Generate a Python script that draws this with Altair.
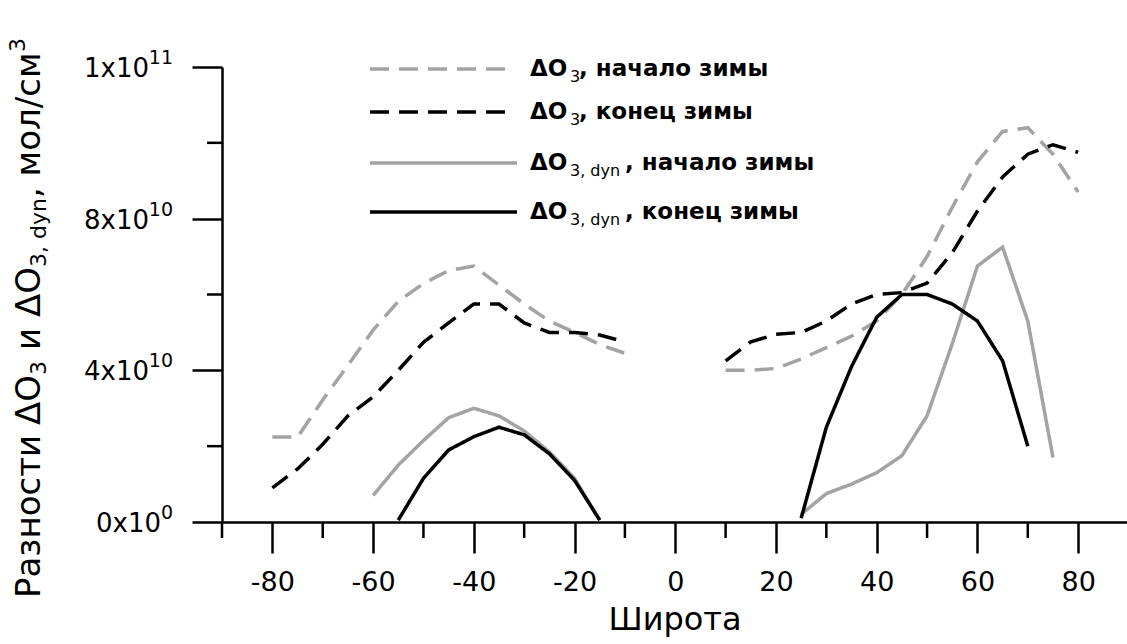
import altair as alt
import pandas as pd

# ---------------- data (values in units of 1e10 mol/cm^3) ----------------
lat_s = [-80, -75, -70, -65, -60, -55, -50, -45, -40, -35, -30, -25, -20, -15, -10]
do3_start_s = [2.24, 2.24, 3.22, 4.13, 5.06, 5.82, 6.29, 6.63, 6.75, 6.25, 5.75, 5.3, 5.0, 4.68, 4.45]
do3_end_s = [0.9, 1.4, 2.05, 2.8, 3.3, 4.0, 4.74, 5.25, 5.75, 5.75, 5.25, 5.0, 5.0, 4.93, 4.75]

lat_dyn_start_s = [-60, -55, -50, -45, -40, -35, -30, -25, -20, -15]
dyn_start_s = [0.7, 1.5, 2.15, 2.75, 3.0, 2.8, 2.4, 1.85, 1.15, 0.05]
lat_dyn_end_s = [-55, -50, -45, -40, -35, -30, -25, -20, -15]
dyn_end_s = [0.05, 1.15, 1.9, 2.25, 2.5, 2.3, 1.8, 1.1, 0.05]

lat_n = [10, 15, 20, 25, 30, 35, 40, 45, 50, 55, 60, 65, 70, 75, 80]
do3_start_n = [4.0, 4.0, 4.05, 4.3, 4.6, 4.9, 5.3, 6.0, 7.0, 8.3, 9.5, 10.3, 10.4, 9.7, 8.7]
do3_end_n = [4.25, 4.75, 4.95, 5.0, 5.3, 5.75, 6.0, 6.05, 6.3, 7.1, 8.2, 9.1, 9.7, 9.95, 9.75]

lat_dyn_start_n = [25, 30, 35, 40, 45, 50, 55, 60, 65, 70, 75]
dyn_start_n = [0.2, 0.75, 1.0, 1.3, 1.75, 2.8, 4.7, 6.75, 7.25, 5.3, 1.7]
lat_dyn_end_n = [25, 30, 35, 40, 45, 50, 55, 60, 65, 70]
dyn_end_n = [0.1, 2.5, 4.1, 5.4, 6.0, 6.0, 5.75, 5.3, 4.25, 2.0]

series_keys = ["s1", "s2", "s3", "s4"]
x_major = [-80, -60, -40, -20, 0, 20, 40, 60, 80]
x_minor = [-90, -70, -50, -30, -10, 10, 30, 50, 70]
y_major = [0, 4e10, 8e10, 1.2e11]
y_minor = [2e10, 6e10, 1e11]
# tick labels of the y axis: mantissa and exponent (Grapher style)
y_lab_vals2 = [4e10, 8e10, 1.2e11]
y_lab_mant2 = ["4x10", "8x10", "1x10"]
y_lab_exp2 = ["10", "10", "11"]
y_lab_vals1 = [0]
y_lab_mant1 = ["0x10"]
y_lab_exp1 = ["0"]

rows = []
def add(key, seg, lats, vals):
    for la, v in zip(lats, vals):
        rows.append({"series": key, "seg": seg, "lat": la, "v": v * 1e10})

add("s1", "S", lat_s, do3_start_s)
add("s1", "N", lat_n, do3_start_n)
add("s2", "S", lat_s, do3_end_s)
add("s2", "N", lat_n, do3_end_n)
add("s3", "S", lat_dyn_start_s, dyn_start_s)
add("s3", "N", lat_dyn_start_n, dyn_start_n)
add("s4", "S", lat_dyn_end_s, dyn_end_s)
add("s4", "N", lat_dyn_end_n, dyn_end_n)
df = pd.DataFrame(rows)

FONT = "DejaVu Sans"
GRAY = "#a3a3a3"
W, H = 905, 455

xscale = alt.Scale(domain=[-90, 89.7], nice=False, zero=False)
yscale = alt.Scale(domain=[0, 1.2e11], nice=False, zero=False)

lines = alt.Chart(df).mark_line(strokeWidth=3.5, clip=False).encode(
    x=alt.X("lat:Q", scale=xscale,
            axis=alt.Axis(values=x_major, tickSize=31, labelPadding=16,
                          labelExpr="'' + datum.value", title="Широта",
                          titleFont=FONT, titleFontSize=32, titleFontWeight="normal",
                          titlePadding=9, titleColor="black")),
    y=alt.Y("v:Q", scale=yscale,
            axis=alt.Axis(values=y_major, tickSize=30, labels=False, title=None)),
    color=alt.Color("series:N", scale=alt.Scale(domain=series_keys,
                    range=[GRAY, "black", GRAY, "black"]), legend=None),
    strokeDash=alt.StrokeDash("series:N", scale=alt.Scale(domain=series_keys,
                    range=[[19, 10], [19, 10], [1, 0], [1, 0]]), legend=None),
    detail="seg:N",
)

xminor = alt.Chart(pd.DataFrame({"lat": x_minor})).mark_rule(
    color="black", strokeWidth=2.5).encode(
    x=alt.X("lat:Q", scale=xscale), y=alt.value(H), y2=alt.value(H + 16))

yminor = alt.Chart(pd.DataFrame({"v": y_minor})).mark_rule(
    color="black", strokeWidth=2.5).encode(
    y=alt.Y("v:Q", scale=yscale), x=alt.value(-15), x2=alt.value(0))

# y tick labels with real superscripts
EXP_W = 12
def ylabels(vals, mant, exps, ndig):
    d = pd.DataFrame({"v": vals, "mant": mant, "exp": exps})
    base = alt.Chart(d)
    m = base.mark_text(font=FONT, fontSize=26, align="right", baseline="middle",
                       color="black", dy=2).encode(
        y=alt.Y("v:Q", scale=yscale), x=alt.value(-49 - ndig * EXP_W), text="mant:N")
    e = base.mark_text(font=FONT, fontSize=19, align="right", baseline="middle",
                       color="black", dy=-9).encode(
        y=alt.Y("v:Q", scale=yscale), x=alt.value(-49), text="exp:N")
    return [m, e]

ylab = ylabels(y_lab_vals2, y_lab_mant2, y_lab_exp2, 2) + \
       ylabels(y_lab_vals1, y_lab_mant1, y_lab_exp1, 1)

one = pd.DataFrame({"k": [0]})

def txt(s, x, y, size, bold=False, angle=0, dx=0, dy=0, align="left"):
    kw = dict(text=s, font=FONT, fontSize=size, fontWeight="bold" if bold else "normal",
              dx=dx, dy=dy, align=align, baseline="middle", color="black")
    if angle:
        kw["angle"] = angle
    return alt.Chart(one).mark_text(**kw).encode(x=alt.value(x), y=alt.value(y))

def rule(x1, x2, y, color, dash):
    return alt.Chart(one).mark_rule(color=color, strokeWidth=3.5, strokeDash=dash).encode(
        x=alt.value(x1), x2=alt.value(x2), y=alt.value(y))

# legend
leg = []
leg_rows = [
    (2, GRAY, [19, 10], "3", ", начало зимы", 357),
    (45, "black", [19, 10], "3", ", конец зимы", 357),
    (96, GRAY, [1, 0], "3, dyn", ", начало зимы", 403),
    (145, "black", [1, 0], "3, dyn", ", конец зимы", 403),
]
for y, col, dash, sub, rest, xr in leg_rows:
    leg.append(rule(148, 295 if dash == [1, 0] else 287, y, col, dash))
    leg.append(txt("ΔO", 308, y, 23, bold=True))
    leg.append(txt(sub, 348, y + 8, 16))
    leg.append(txt(rest, xr, y, 23, bold=True))

# y-axis title pieces (rotated)
TX, TY = -192, 531
ytitle = [
    txt("Разности", TX, TY, 34, angle=270, dx=0),
    txt("ΔO", TX, TY, 34, angle=270, dx=173),
    txt("3", TX, TY, 22, angle=270, dx=223, dy=9),
    txt("и ΔO", TX, TY, 34, angle=270, dx=248),
    txt("3, dyn", TX, TY, 22, angle=270, dx=331, dy=9),
    txt(", мол/см", TX, TY, 34, angle=270, dx=400),
    txt("3", TX, TY, 22, angle=270, dx=546, dy=-12),
]

chart = alt.layer(lines, xminor, yminor, *ylab, *leg, *ytitle).properties(
    width=W, height=H,
    autosize=alt.AutoSizeParams(type="none"),
    padding={"left": 222, "top": 67, "right": 0, "bottom": 122},
    background="white",
).configure_view(stroke=None).configure_axis(
    grid=False, domainColor="black", domainWidth=2.5, tickColor="black", tickWidth=2.5,
    labelFont=FONT, labelFontSize=27, labelColor="black",
)

chart.save("out.html", embed_options={"renderer": "svg", "actions": False})
